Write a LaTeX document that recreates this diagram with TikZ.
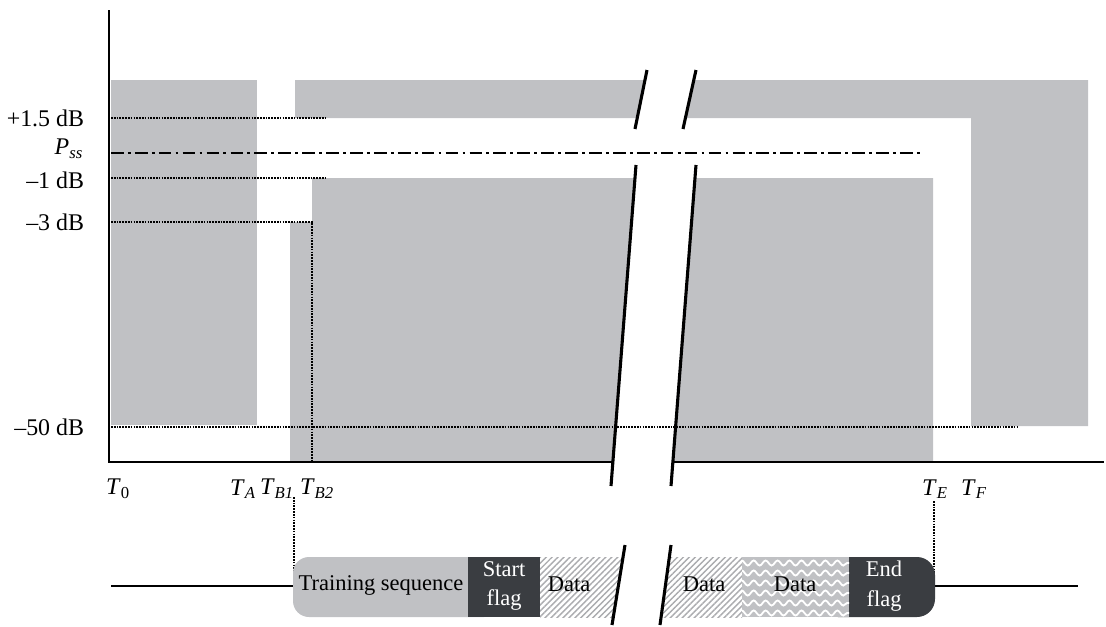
\documentclass[tikz,border=0pt]{standalone}
\usepackage{fontspec}
\setmainfont{Liberation Serif}
\usetikzlibrary{patterns.meta, decorations.pathmorphing}
\definecolor{maskgray}{RGB}{192,193,196}
\definecolor{flagdark}{RGB}{58,61,65}
\definecolor{hatchgray}{RGB}{170,171,174}
\newcommand{\tlab}[1]{\textit{T}\textsubscript{\textit{#1}}}

\tikzset{
 axisline/.style={line width=2.1pt},
 levelline/.style={line width=1.7pt, dash pattern=on 1.2pt off 0.8pt},
 ssline/.style={line width=1.4pt, dash pattern=on 9pt off 3pt on 2pt off 3pt},
 breakline/.style={line width=2.2pt},
 axlabel/.style={font=\fontsize{17}{20}\selectfont},
 pktlabel/.style={inner sep=0pt, align=center}
}

\begin{document}
\begin{tikzpicture}[x=0.025cm, y=-0.025cm, font=\fontsize{16}{21}\selectfont]
 \useasboundingbox (0,0) rectangle (1106,626);
 % mask
 \fill[maskgray] (111,80) rectangle (257,425);
 \fill[maskgray] (295,80) -- (1088,80) -- (1088,426) -- (971,426) -- (971,118) -- (295,118) -- cycle;
 \fill[maskgray] (290,462) -- (290,222) -- (312,222) -- (312,178) -- (933,178) -- (933,462) -- cycle;
 % axes
 \draw[axisline] (109,10) -- (109,462) -- (1104,462);
 % gap of the break
 \fill[white] (647,70) -- (635,129) -- (636,165) -- (611,486) -- (671,486) -- (696,165) -- (683,129) -- (696,70) -- cycle;
 % levels
 \draw[levelline] (111,118) -- (327,118);
 \draw[levelline] (111,178) -- (327,178);
 \draw[levelline] (111,222) -- (312,222) -- (312,462);
 \draw[levelline] (111,427) -- (1018,427);
 \draw[ssline] (111,153) -- (921,153);
 \draw[breakline] (647,70) -- (635,129);
 \draw[breakline] (696,70) -- (683,129);
 \draw[breakline] (636,165) -- (611,486);
 \draw[breakline] (696,165) -- (671,486);
 \node[axlabel, anchor=east] (up15) at (89,118) {+1.5 dB};
 \node[axlabel, anchor=east] (pss) at (88,149) {\textit{P}\textsubscript{\textit{ss}}};
 \node[axlabel, anchor=east] (dn1) at (89,180) {--1 dB};
 \node[axlabel, anchor=east] (dn3) at (89,222) {--3 dB};
 \node[axlabel, anchor=east] (dn50) at (89,427) {--50 dB};
 \node[axlabel] (t0) at (118,489) {\textit{T}\textsubscript{0}};
 \node[axlabel] (ta) at (243,489) {\tlab{A}};
 \node[axlabel] (tb1) at (277,489) {\tlab{B1}};
 \node[axlabel] (tb2) at (317,489) {\tlab{B2}};
 \node[axlabel] (te) at (935,489) {\tlab{E}};
 \node[axlabel] (tf) at (974,489) {\tlab{F}};
 % packet
 \coordinate (pktl) at (294,586);
 \coordinate (pktr) at (934,586);
 \draw[line width=1.1pt] (111,586) -- (pktl);
 \draw[line width=1.1pt] (pktr) -- (1078,586);
 \draw[levelline] (294,497) -- (pktl);
 \draw[levelline] (934,501) -- (pktr);
 \fill[maskgray, rounded corners=0.4cm] (293,557) rectangle (500,617);
 \fill[flagdark] (468,557) rectangle (540,617);
 \fill[pattern={Lines[angle=45, distance=3pt, line width=1pt]}, pattern color=hatchgray] (540,557) rectangle (742,617);
 \fill[flagdark, rounded corners=0.45cm] (820,557) rectangle (935,617);
 \fill[maskgray] (742,557) rectangle (849,617);
 \begin{scope}
  \clip (742,557) rectangle (849,617);
  \foreach \y in {553,563,...,623}
   \draw[white, line width=1.3pt, decorate, decoration={snake, segment length=8.5pt, amplitude=1.8pt}] (738,\y) -- (853,\y);
 \end{scope}
 \fill[white] (625,545) -- (612,625) -- (660,625) -- (671,545) -- cycle;
 \draw[breakline] (625,545) -- (612,625);
 \draw[breakline] (671,545) -- (660,625);
 \node[pktlabel] (train) at (381,585) {Training sequence};
 \node[pktlabel, text=white] (startf) at (504,586) {Start\\flag};
 \node[pktlabel] (data1) at (569,584) {Data};
 \node[pktlabel] (data2) at (704,584) {Data};
 \node[pktlabel] (data3) at (795,584) {Data};
 \node[pktlabel, text=white] (endf) at (884,586) {End\\flag};
\end{tikzpicture}
\end{document}
